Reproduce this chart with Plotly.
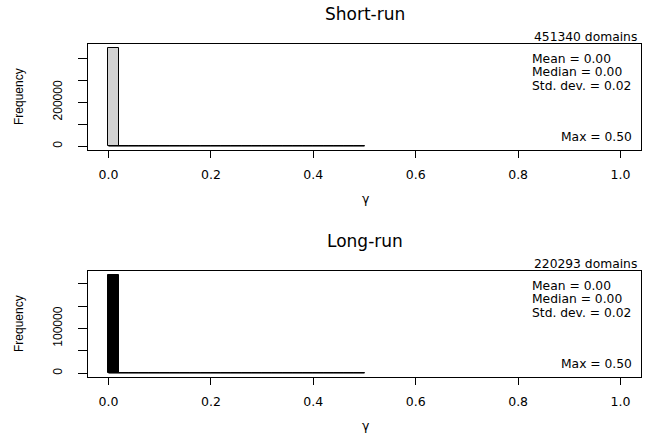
import plotly.graph_objects as go

# ---- data ----
bin_edges = [round(0.02 * i, 2) for i in range(26)]  # 0.00 .. 0.50
short_counts = [447500, 200, 250, 1100, 900, 150, 100, 120, 80, 200, 60, 50, 150,
                40, 40, 30, 120, 30, 25, 40, 20, 20, 20, 20, 100]
long_counts = [219850, 3, 3, 3, 3, 3, 3, 3, 3, 120, 2, 2, 100, 2, 2, 2, 90, 2, 2,
               2, 2, 2, 2, 2, 80]
panel_titles = ["Short-run", "Long-run"]
domain_labels = ["451340 domains", "220293 domains"]
stat_lines = [["Mean = 0.00", "Median = 0.00", "Std. dev. = 0.02"],
              ["Mean = 0.00", "Median = 0.00", "Std. dev. = 0.02"]]
max_labels = ["Max = 0.50", "Max = 0.50"]
x_ticks = [0.0, 0.2, 0.4, 0.6, 0.8, 1.0]
x_ticklabels = ["0.0", "0.2", "0.4", "0.6", "0.8", "1.0"]
y_ticks = [[0, 100000, 200000, 300000, 400000], [0, 50000, 100000, 150000, 200000]]
y_ticklabels = [["0", "", "200000", "", ""], ["0", "", "100000", "", ""]]
fill_colors = ["#d3d3d3", "#000000"]

W, H = 649, 438
def px(x):
    return x / W
def py(y):
    return 1 - y / H

HFONT = "DejaVu Sans"
VFONT = "Liberation Sans"

# panel geometry (pixels)
box_left, box_right = 88, 641
boxes = [(44, 150), (271, 377)]
text_offsets = [0, 227]

fig = go.Figure()
centers = [(bin_edges[i] + bin_edges[i + 1]) / 2 for i in range(len(bin_edges) - 1)]
widths = [bin_edges[i + 1] - bin_edges[i] for i in range(len(bin_edges) - 1)]

annotations = []
for k, counts in enumerate([short_counts, long_counts]):
    xa = "x" if k == 0 else "x2"
    ya = "y" if k == 0 else "y2"
    fig.add_trace(go.Bar(x=centers, y=counts, width=widths, xaxis=xa, yaxis=ya,
                         marker=dict(color=fill_colors[k], line=dict(color="black", width=1)),
                         showlegend=False, hoverinfo="x+y"))
    fig.add_trace(go.Scatter(x=[bin_edges[0], bin_edges[-1]], y=[0, 0], xaxis=xa, yaxis=ya,
                             mode="lines", line=dict(color="black", width=1),
                             showlegend=False, hoverinfo="skip"))
    top, bot = boxes[k]
    ymax = max(counts)
    xkey = "xaxis" if k == 0 else "xaxis2"
    ykey = "yaxis" if k == 0 else "yaxis2"
    fig.update_layout({
        xkey: dict(domain=[px(box_left), px(box_right)], range=[-0.04, 1.04],
                   tickvals=x_ticks, ticktext=x_ticklabels, ticks="outside", ticklen=7,
                   tickcolor="black", showline=True, mirror=True, linecolor="black",
                   linewidth=1, showgrid=False, zeroline=False, anchor=ya,
                   tickfont=dict(family=HFONT, size=12.5, color="black"),
                   ticklabelstandoff=6, fixedrange=True),
        ykey: dict(domain=[py(bot), py(top)], range=[-0.04 * ymax, 1.04 * ymax],
                   tickvals=y_ticks[k], ticktext=y_ticklabels[k], tickangle=-90,
                   ticks="outside", ticklen=9, tickcolor="black", showline=True,
                   mirror=True, linecolor="black", linewidth=1, showgrid=False,
                   zeroline=False, anchor=xa,
                   tickfont=dict(family=VFONT, size=12, color="black"),
                   ticklabelstandoff=11, fixedrange=True),
    })
    off = text_offsets[k]
    annotations.append(dict(text=panel_titles[k], x=px(364.5), y=py(14 + off),
                            xanchor="center", yanchor="middle",
                            font=dict(family=HFONT, size=17, color="black")))
    annotations.append(dict(text=domain_labels[k], x=px(639), y=py(37 + off),
                            xanchor="right", yanchor="middle",
                            font=dict(family=HFONT, size=12.3, color="black")))
    for j, line in enumerate(stat_lines[k]):
        annotations.append(dict(text=line, x=px(530), y=py(59 + off + 13.3 * j),
                                xanchor="left", yanchor="middle",
                                font=dict(family=HFONT, size=12.3, color="black")))
    annotations.append(dict(text=max_labels[k], x=px(634), y=py(137 + off),
                            xanchor="right", yanchor="middle",
                            font=dict(family=HFONT, size=12.3, color="black")))
    annotations.append(dict(text="Frequency", x=px(19), y=py((top + bot) / 2),
                            textangle=-90, xanchor="center", yanchor="middle",
                            font=dict(family=VFONT, size=12, color="black")))
    annotations.append(dict(text="γ", x=px(366), y=py(199 + off - 1),
                            xanchor="center", yanchor="middle",
                            font=dict(family=HFONT, size=12.5, color="black")))

for a in annotations:
    a.update(xref="paper", yref="paper", showarrow=False)

fig.update_layout(width=W, height=H, margin=dict(l=0, r=0, t=0, b=0),
                  paper_bgcolor="white", plot_bgcolor="white",
                  annotations=annotations, bargap=0)

fig.write_html("out.html", config={"displayModeBar": False},
               post_script="document.body.style.margin='0px';document.body.style.padding='0px';")
